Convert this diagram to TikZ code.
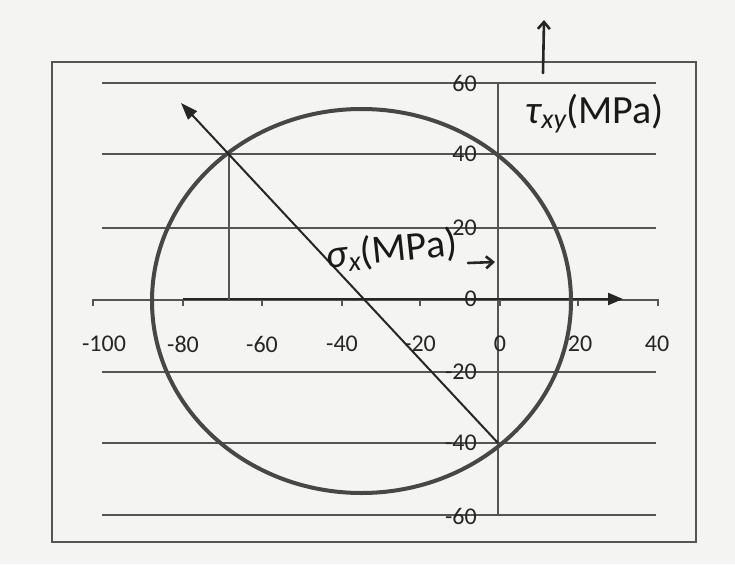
\documentclass[tikz,border=0pt]{standalone}
\usepackage{fontspec}
\setmainfont{Carlito}
\usetikzlibrary{arrows.meta}
\definecolor{paper}{HTML}{F4F4F2}
\definecolor{ink}{HTML}{474747}
\definecolor{gridc}{HTML}{555555}
\tikzset{
  frame/.style={draw=gridc, line width=1.4pt},
  gridline/.style={draw=gridc, line width=1.8pt},
  axisline/.style={draw=gridc, line width=1.6pt},
  thickarrow/.style={draw=black!85, line width=2.2pt, -{Triangle[length=15pt,width=12pt]}},
  diam/.style={draw=black!85, line width=2pt, -{Triangle[length=17pt,width=12pt]}},
  mohr/.style={draw=ink, line width=4pt},
  ticklbl/.style={font=\fontsize{24}{28}\selectfont, text=black!85, inner sep=0pt},
  hand/.style={font=\fontsize{40}{44}\selectfont, text=black!90, inner sep=0pt},
  handarrow/.style={draw=black!85, line width=2.6pt, line cap=round, -{Straight Barb[length=7pt,width=12pt]}}
}
\begin{document}
\begin{tikzpicture}[x=1pt,y=-1pt]
\fill[paper] (0,0) rectangle (735,564);
\useasboundingbox (0,0) rectangle (735,564);
% frame
\draw[frame] (52,62) rectangle (696,542);
% grid lines
\foreach \yy in {83,154,228,372,443,515}{
  \draw[gridline] (102,\yy) -- (656,\yy);
}
% x axis with ticks
\coordinate (xl) at (93,300);
\coordinate (xr) at (658,300);
\draw[axisline] (93,306) -- (xl) -- (xr) -- (658,306);
\foreach \xx in {183,262,342,420,500,578}{
  \draw[axisline] (\xx,300) -- (\xx,306);
}
% y axis
\coordinate (ytop) at (498,83);
\coordinate (ybot) at (498,516);
\draw[gridline] (ytop) -- (ybot);
% y tick labels
\node[ticklbl, anchor=east] (y60) at (477,83) {60};
\node[ticklbl, anchor=east] (y40) at (477,154) {40};
\node[ticklbl, anchor=east] (y20) at (477,228) {20};
\node[ticklbl, anchor=east] (y0) at (477,299) {0};
\node[ticklbl, anchor=east] (ym20) at (477,372) {-20};
\node[ticklbl, anchor=east] (ym40) at (477,443) {-40};
\node[ticklbl, anchor=east] (ym60) at (477,516) {-60};
% x tick labels
\node[ticklbl] (xm100) at (104,344) {-100};
\node[ticklbl] (xm80) at (183,344) {-80};
\node[ticklbl] (xm60) at (262,344) {-60};
\node[ticklbl] (xm40) at (342,344) {-40};
\node[ticklbl] (xm20) at (420,344) {-20};
\node[ticklbl] (x0) at (500,344) {0};
\node[ticklbl] (x20) at (580,344) {20};
\node[ticklbl] (x40) at (657,344) {40};
% thick sigma axis arrow
\coordinate (as) at (183,299);
\coordinate (ae) at (623,299);
\draw[thickarrow] (as) -- (ae);
% Mohr circle
\draw[mohr] (361.5,301) ellipse [x radius=209.5pt, y radius=192pt];
% diameter
\coordinate (A) at (498,443);
\coordinate (B) at (229,155);
\coordinate (T) at (181,103);
\coordinate (Bf) at (229,300);
\draw[draw=gridc, line width=1.4pt] (B) -- (Bf);
\draw[diam] (A) -- (T);
% handwritten labels
\node[hand] (tau) at (595,114) {{\itshape τ}\textsubscript{\itshape xy}(MPa)};
\node[hand, rotate=6] (sig) at (392,250) {{\itshape σ}\textsubscript{\itshape x}(MPa)};
\coordinate (ha1) at (468,263);
\coordinate (ha2) at (495,262);
\draw[handarrow] (ha1) -- (ha2);
\coordinate (va1) at (543,73);
\coordinate (va2) at (544,20);
\draw[handarrow] (va1) -- (va2);
\end{tikzpicture}
\end{document}
